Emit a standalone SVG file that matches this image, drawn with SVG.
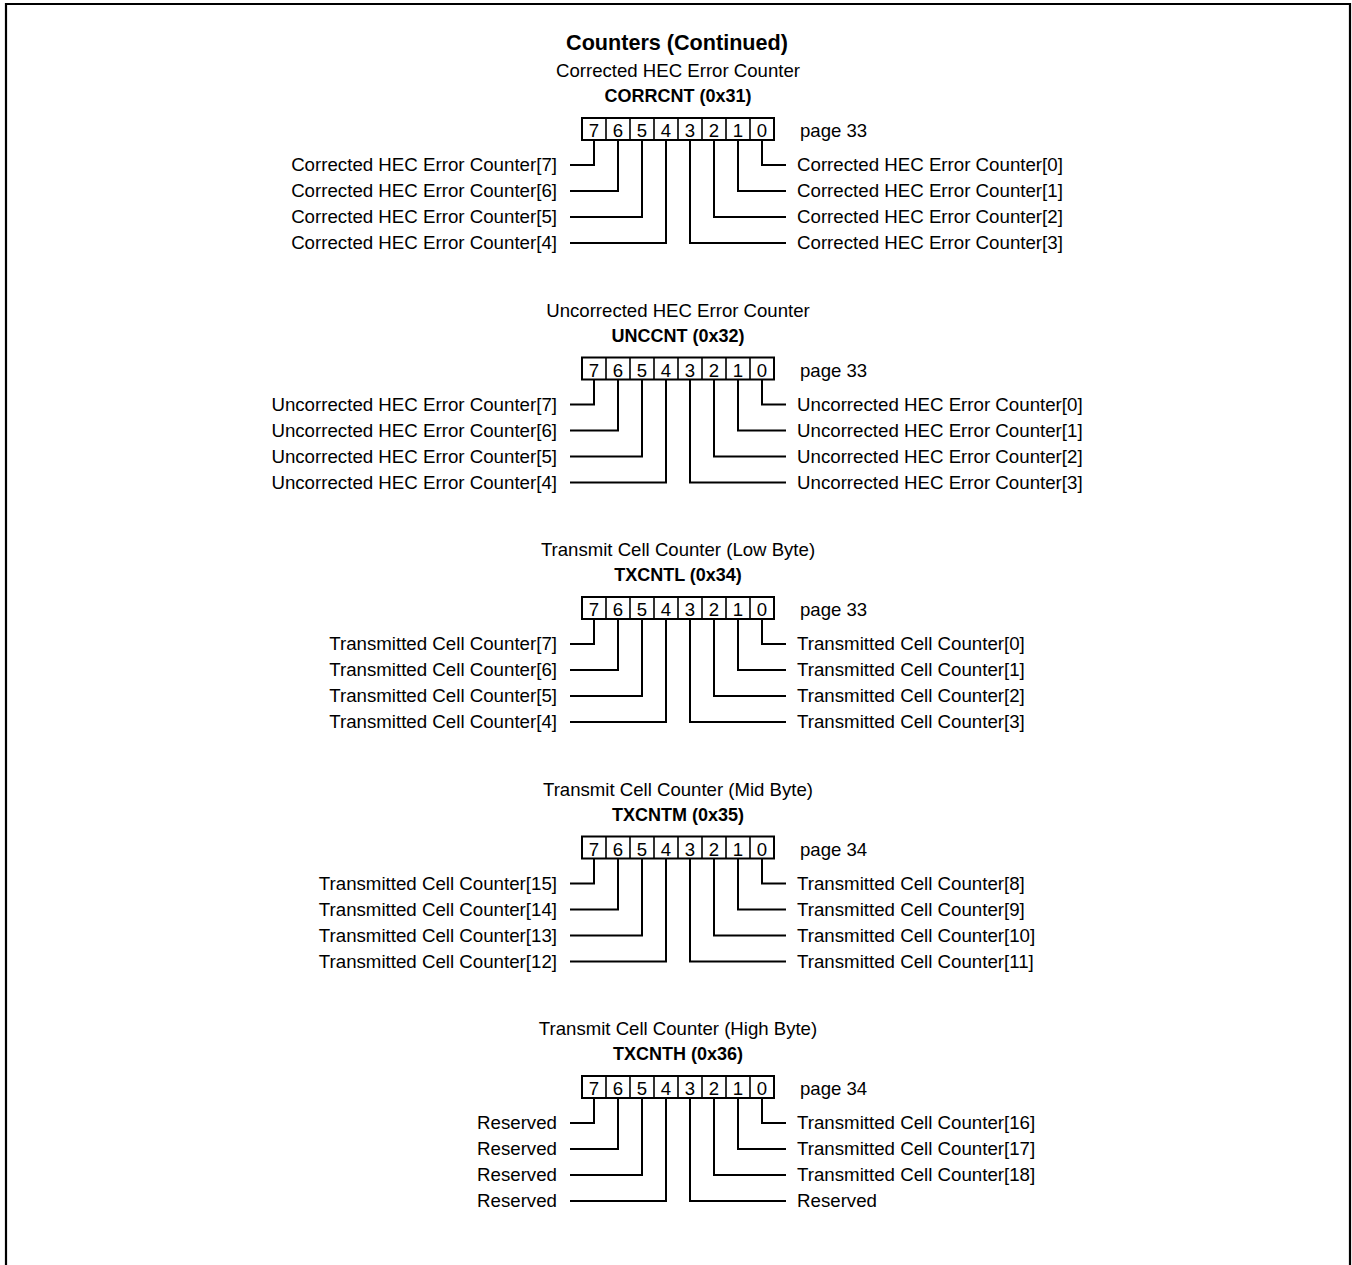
<svg xmlns="http://www.w3.org/2000/svg" xmlns:xlink="http://www.w3.org/1999/xlink" width="1352" height="1265" viewBox="0 0 1352 1265">
<style>
  text { font-family: "Liberation Sans", Arial, sans-serif; fill: #000; }
  .title { font-size: 21.6px; font-weight: bold; text-anchor: middle; }
  .sub { font-size: 18.6px; text-anchor: middle; }
  .reg { font-size: 18px; font-weight: bold; text-anchor: middle; }
  .bit { font-size: 18.6px; text-anchor: middle; }
  .pg { font-size: 18.6px; }
  .lbl { font-size: 18.7px; }
  .l { text-anchor: end; }
  .cell { fill: #fff; stroke: #000; stroke-width: 2; }
  .div { stroke: #000; stroke-width: 1.6; }
  .wire { fill: none; stroke: #000; stroke-width: 2; }
  .frame { fill: none; stroke: #000; stroke-width: 2.2; }
</style>
<defs>
  <g id="bitbox">
    <rect class="cell" x="582" y="118" width="192" height="22"/>
    <path class="div" d="M606,118V140M630,118V140M654,118V140M678,118V140M702,118V140M726,118V140M750,118V140"/>
    <text class="bit" x="594" y="137">7</text>
    <text class="bit" x="618" y="137">6</text>
    <text class="bit" x="642" y="137">5</text>
    <text class="bit" x="666" y="137">4</text>
    <text class="bit" x="690" y="137">3</text>
    <text class="bit" x="714" y="137">2</text>
    <text class="bit" x="738" y="137">1</text>
    <text class="bit" x="762" y="137">0</text>
  </g>
  <g id="bitlines">
    <path class="wire" d="M594,140V165H570"/>
    <path class="wire" d="M618,140V191H570"/>
    <path class="wire" d="M642,140V217H570"/>
    <path class="wire" d="M666,140V243H570"/>
    <path class="wire" d="M690,140V243H786"/>
    <path class="wire" d="M714,140V217H786"/>
    <path class="wire" d="M738,140V191H786"/>
    <path class="wire" d="M762,140V165H786"/>
  </g>
</defs>
<rect width="1352" height="1265" fill="#fff"/>
<path class="frame" d="M6,1266V4H1350V1266"/>
<text id="page-title" class="title" x="677" y="49.5">Counters (Continued)</text>

<g id="connectors">
  <use xlink:href="#bitlines"/>
  <use xlink:href="#bitlines" y="239.5"/>
  <use xlink:href="#bitlines" y="479"/>
  <use xlink:href="#bitlines" y="718.5"/>
  <use xlink:href="#bitlines" y="958"/>
</g>

<g id="corrcnt">
  <text class="sub" x="678" y="77">Corrected HEC Error Counter</text>
  <text class="reg" x="678" y="102">CORRCNT (0x31)</text>
  <use xlink:href="#bitbox"/>
  <text class="pg" x="800" y="137">page 33</text>
  <text class="lbl l" x="557" y="171">Corrected HEC Error Counter[7]</text>
  <text class="lbl l" x="557" y="197">Corrected HEC Error Counter[6]</text>
  <text class="lbl l" x="557" y="223">Corrected HEC Error Counter[5]</text>
  <text class="lbl l" x="557" y="249">Corrected HEC Error Counter[4]</text>
  <text class="lbl" x="797" y="171">Corrected HEC Error Counter[0]</text>
  <text class="lbl" x="797" y="197">Corrected HEC Error Counter[1]</text>
  <text class="lbl" x="797" y="223">Corrected HEC Error Counter[2]</text>
  <text class="lbl" x="797" y="249">Corrected HEC Error Counter[3]</text>
</g>

<g id="unccnt" transform="translate(0,239.5)">
  <text class="sub" x="678" y="77">Uncorrected HEC Error Counter</text>
  <text class="reg" x="678" y="102">UNCCNT (0x32)</text>
  <use xlink:href="#bitbox"/>
  <text class="pg" x="800" y="137">page 33</text>
  <text class="lbl l" x="557" y="171">Uncorrected HEC Error Counter[7]</text>
  <text class="lbl l" x="557" y="197">Uncorrected HEC Error Counter[6]</text>
  <text class="lbl l" x="557" y="223">Uncorrected HEC Error Counter[5]</text>
  <text class="lbl l" x="557" y="249">Uncorrected HEC Error Counter[4]</text>
  <text class="lbl" x="797" y="171">Uncorrected HEC Error Counter[0]</text>
  <text class="lbl" x="797" y="197">Uncorrected HEC Error Counter[1]</text>
  <text class="lbl" x="797" y="223">Uncorrected HEC Error Counter[2]</text>
  <text class="lbl" x="797" y="249">Uncorrected HEC Error Counter[3]</text>
</g>

<g id="txcntl" transform="translate(0,479)">
  <text class="sub" x="678" y="77">Transmit Cell Counter (Low Byte)</text>
  <text class="reg" x="678" y="102">TXCNTL (0x34)</text>
  <use xlink:href="#bitbox"/>
  <text class="pg" x="800" y="137">page 33</text>
  <text class="lbl l" x="557" y="171">Transmitted Cell Counter[7]</text>
  <text class="lbl l" x="557" y="197">Transmitted Cell Counter[6]</text>
  <text class="lbl l" x="557" y="223">Transmitted Cell Counter[5]</text>
  <text class="lbl l" x="557" y="249">Transmitted Cell Counter[4]</text>
  <text class="lbl" x="797" y="171">Transmitted Cell Counter[0]</text>
  <text class="lbl" x="797" y="197">Transmitted Cell Counter[1]</text>
  <text class="lbl" x="797" y="223">Transmitted Cell Counter[2]</text>
  <text class="lbl" x="797" y="249">Transmitted Cell Counter[3]</text>
</g>

<g id="txcntm" transform="translate(0,718.5)">
  <text class="sub" x="678" y="77">Transmit Cell Counter (Mid Byte)</text>
  <text class="reg" x="678" y="102">TXCNTM (0x35)</text>
  <use xlink:href="#bitbox"/>
  <text class="pg" x="800" y="137">page 34</text>
  <text class="lbl l" x="557" y="171">Transmitted Cell Counter[15]</text>
  <text class="lbl l" x="557" y="197">Transmitted Cell Counter[14]</text>
  <text class="lbl l" x="557" y="223">Transmitted Cell Counter[13]</text>
  <text class="lbl l" x="557" y="249">Transmitted Cell Counter[12]</text>
  <text class="lbl" x="797" y="171">Transmitted Cell Counter[8]</text>
  <text class="lbl" x="797" y="197">Transmitted Cell Counter[9]</text>
  <text class="lbl" x="797" y="223">Transmitted Cell Counter[10]</text>
  <text class="lbl" x="797" y="249">Transmitted Cell Counter[11]</text>
</g>

<g id="txcnth" transform="translate(0,958)">
  <text class="sub" x="678" y="77">Transmit Cell Counter (High Byte)</text>
  <text class="reg" x="678" y="102">TXCNTH (0x36)</text>
  <use xlink:href="#bitbox"/>
  <text class="pg" x="800" y="137">page 34</text>
  <text class="lbl l" x="557" y="171">Reserved</text>
  <text class="lbl l" x="557" y="197">Reserved</text>
  <text class="lbl l" x="557" y="223">Reserved</text>
  <text class="lbl l" x="557" y="249">Reserved</text>
  <text class="lbl" x="797" y="171">Transmitted Cell Counter[16]</text>
  <text class="lbl" x="797" y="197">Transmitted Cell Counter[17]</text>
  <text class="lbl" x="797" y="223">Transmitted Cell Counter[18]</text>
  <text class="lbl" x="797" y="249">Reserved</text>
</g>
</svg>
